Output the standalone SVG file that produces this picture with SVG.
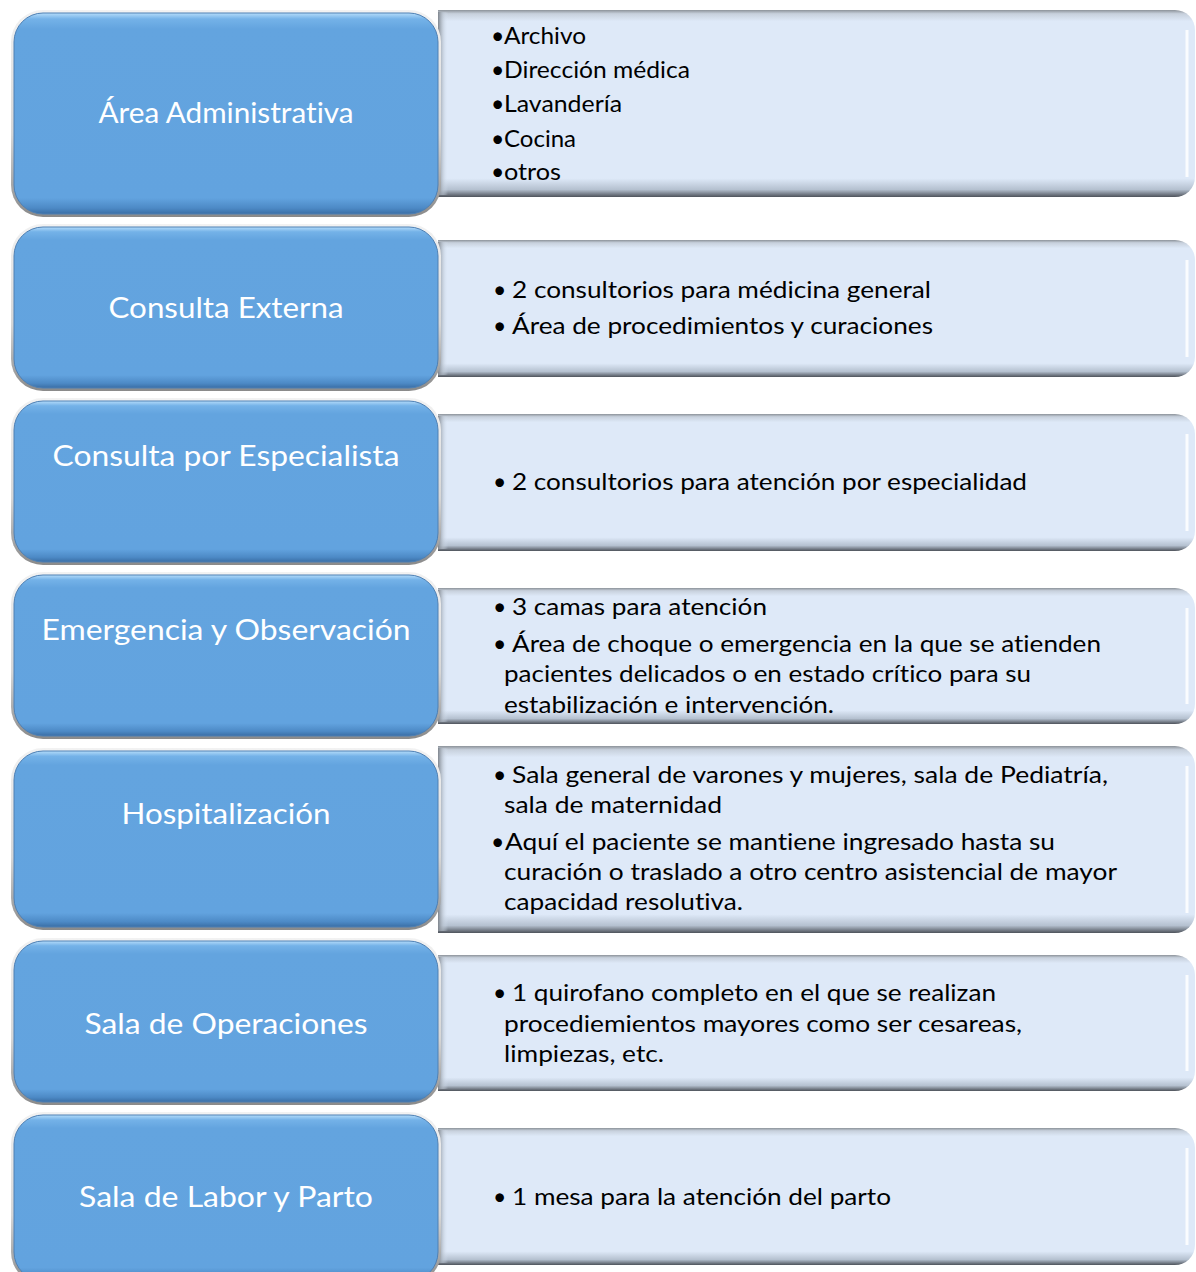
<svg xmlns="http://www.w3.org/2000/svg" width="1196" height="1272" viewBox="0 0 1196 1272">
<defs>
<style>
.ring{fill:url(#ring);}
.blue{fill:url(#blue);stroke:#4E80B4;stroke-width:1;}
.card{fill:url(#card);}
.cardL{fill:url(#cardL);}
.hi{fill:none;stroke:#FFFFFF;stroke-width:3;stroke-opacity:0.85;}
.lbl{font-family:Lato,"Open Sans","Liberation Sans",sans-serif;font-size:29px;fill:#FFFFFF;text-anchor:middle;font-variant-ligatures:none;font-feature-settings:"liga" 0;}
.itm{font-family:Lato,"Open Sans","Liberation Sans",sans-serif;font-size:23px;fill:#000000;font-variant-ligatures:none;font-feature-settings:"liga" 0;}
</style>
<linearGradient id="ring" x1="0" y1="0" x2="0" y2="1">
<stop offset="0" stop-color="#F2F2F2"/><stop offset="0.6" stop-color="#D6D6D6"/><stop offset="1" stop-color="#8A8A8A"/>
</linearGradient>
<linearGradient id="blue" x1="0" y1="0" x2="0" y2="1">
<stop offset="0" stop-color="#B4DCFA"/><stop offset="0.03" stop-color="#74B2E8"/><stop offset="0.08" stop-color="#63A4DF"/><stop offset="0.92" stop-color="#62A3DF"/><stop offset="0.97" stop-color="#4D8AC6"/><stop offset="1" stop-color="#3A6EA5"/>
</linearGradient>
<linearGradient id="card" x1="0" y1="0" x2="0" y2="1">
<stop offset="0" stop-color="#8C9299"/><stop offset="0.02" stop-color="#C7D0DC"/><stop offset="0.06" stop-color="#DEE9F8"/><stop offset="0.9" stop-color="#DEE9F8"/><stop offset="0.96" stop-color="#B5C1D0"/><stop offset="1" stop-color="#4E535B"/>
</linearGradient>
<linearGradient id="cardL" x1="0" y1="0" x2="1" y2="0">
<stop offset="0" stop-color="#7E848C"/><stop offset="0.5" stop-color="#B9C3CF" stop-opacity="0.6"/><stop offset="1" stop-color="#DEE9F8" stop-opacity="0"/>
</linearGradient>
</defs>
<g id="connectors"/>

<g id="row1-detail">
<path class="card" d="M438 10 H1175 A20 20 0 0 1 1195 30 V177 A20 20 0 0 1 1175 197 H438 Z"/>
<rect class="cardL" x="438" y="12" width="10" height="183"/>
<path class="hi" d="M1187 30 V177"/>
<text class="itm" x="491" y="44">•</text><text class="itm" x="504" y="44" textLength="82" lengthAdjust="spacingAndGlyphs">Archivo</text>
<text class="itm" x="491" y="78">•</text><text class="itm" x="504" y="78" textLength="186" lengthAdjust="spacingAndGlyphs">Dirección médica</text>
<text class="itm" x="491" y="112">•</text><text class="itm" x="504" y="112" textLength="118" lengthAdjust="spacingAndGlyphs">Lavandería</text>
<text class="itm" x="491" y="147">•</text><text class="itm" x="504" y="147" textLength="72" lengthAdjust="spacingAndGlyphs">Cocina</text>
<text class="itm" x="491" y="180">•</text><text class="itm" x="504" y="180" textLength="57" lengthAdjust="spacingAndGlyphs">otros</text>
</g>
<g id="row1">
<rect class="ring" x="11" y="10" width="430" height="207" rx="32"/>
<rect class="blue" x="14" y="13" width="424" height="201" rx="29"/>
<text class="lbl" x="226" y="123" textLength="255" lengthAdjust="spacingAndGlyphs">Área Administrativa</text>
</g>

<g id="row2-detail">
<path class="card" d="M438 240 H1175 A20 20 0 0 1 1195 260 V357 A20 20 0 0 1 1175 377 H438 Z"/>
<rect class="cardL" x="438" y="242" width="10" height="133"/>
<path class="hi" d="M1187 260 V357"/>
<text class="itm" x="493" y="298">•</text><text class="itm" x="512" y="298" textLength="419" lengthAdjust="spacingAndGlyphs">2 consultorios para médicina general</text>
<text class="itm" x="493" y="334">•</text><text class="itm" x="512" y="334" textLength="421" lengthAdjust="spacingAndGlyphs">Área de procedimientos y curaciones</text>
</g>
<g id="row2">
<rect class="ring" x="11" y="224" width="430" height="167" rx="32"/>
<rect class="blue" x="14" y="227" width="424" height="161" rx="29"/>
<text class="lbl" x="226" y="318" textLength="235" lengthAdjust="spacingAndGlyphs">Consulta Externa</text>
</g>

<g id="row3-detail">
<path class="card" d="M438 414 H1175 A20 20 0 0 1 1195 434 V531 A20 20 0 0 1 1175 551 H438 Z"/>
<rect class="cardL" x="438" y="416" width="10" height="133"/>
<path class="hi" d="M1187 434 V531"/>
<text class="itm" x="493" y="490">•</text><text class="itm" x="512" y="490" textLength="515" lengthAdjust="spacingAndGlyphs">2 consultorios para atención por especialidad</text>
</g>
<g id="row3">
<rect class="ring" x="11" y="398" width="430" height="167" rx="32"/>
<rect class="blue" x="14" y="401" width="424" height="161" rx="29"/>
<text class="lbl" x="226" y="466" textLength="347" lengthAdjust="spacingAndGlyphs">Consulta por Especialista</text>
</g>

<g id="row4-detail">
<path class="card" d="M438 588 H1175 A20 20 0 0 1 1195 608 V704 A20 20 0 0 1 1175 724 H438 Z"/>
<rect class="cardL" x="438" y="590" width="10" height="132"/>
<path class="hi" d="M1187 608 V704"/>
<text class="itm" x="493" y="615">•</text><text class="itm" x="512" y="615" textLength="255" lengthAdjust="spacingAndGlyphs">3 camas para atención</text>
<text class="itm" x="493" y="652">•</text><text class="itm" x="512" y="652" textLength="589" lengthAdjust="spacingAndGlyphs">Área de choque o emergencia en la que se atienden</text>
<text class="itm" x="504" y="682" textLength="527" lengthAdjust="spacingAndGlyphs">pacientes delicados o en estado crítico para su</text>
<text class="itm" x="504" y="713" textLength="330" lengthAdjust="spacingAndGlyphs">estabilización e intervención.</text>
</g>
<g id="row4">
<rect class="ring" x="11" y="572" width="430" height="167" rx="32"/>
<rect class="blue" x="14" y="575" width="424" height="161" rx="29"/>
<text class="lbl" x="226" y="640" textLength="369" lengthAdjust="spacingAndGlyphs">Emergencia y Observación</text>
</g>

<g id="row5-detail">
<path class="card" d="M438 746 H1175 A20 20 0 0 1 1195 766 V913 A20 20 0 0 1 1175 933 H438 Z"/>
<rect class="cardL" x="438" y="748" width="10" height="183"/>
<path class="hi" d="M1187 766 V913"/>
<text class="itm" x="493" y="783">•</text><text class="itm" x="512" y="783" textLength="596" lengthAdjust="spacingAndGlyphs">Sala general de varones y mujeres, sala de Pediatría,</text>
<text class="itm" x="504" y="813" textLength="218" lengthAdjust="spacingAndGlyphs">sala de maternidad</text>
<text class="itm" x="491" y="850">•</text><text class="itm" x="505" y="850" textLength="550" lengthAdjust="spacingAndGlyphs">Aquí el paciente se mantiene ingresado hasta su</text>
<text class="itm" x="504" y="880" textLength="613" lengthAdjust="spacingAndGlyphs">curación o traslado a otro centro asistencial de mayor</text>
<text class="itm" x="504" y="910" textLength="239" lengthAdjust="spacingAndGlyphs">capacidad resolutiva.</text>
</g>
<g id="row5">
<rect class="ring" x="11" y="748" width="430" height="182" rx="32"/>
<rect class="blue" x="14" y="751" width="424" height="176" rx="29"/>
<text class="lbl" x="226" y="824" textLength="209" lengthAdjust="spacingAndGlyphs">Hospitalización</text>
</g>

<g id="row6-detail">
<path class="card" d="M438 955 H1175 A20 20 0 0 1 1195 975 V1071 A20 20 0 0 1 1175 1091 H438 Z"/>
<rect class="cardL" x="438" y="957" width="10" height="132"/>
<path class="hi" d="M1187 975 V1071"/>
<text class="itm" x="493" y="1001">•</text><text class="itm" x="512" y="1001" textLength="484" lengthAdjust="spacingAndGlyphs">1 quirofano completo en el que se realizan</text>
<text class="itm" x="504" y="1032" textLength="518" lengthAdjust="spacingAndGlyphs">procediemientos mayores como ser cesareas,</text>
<text class="itm" x="504" y="1062" textLength="160" lengthAdjust="spacingAndGlyphs">limpiezas, etc.</text>
</g>
<g id="row6">
<rect class="ring" x="11" y="938" width="430" height="167" rx="32"/>
<rect class="blue" x="14" y="941" width="424" height="161" rx="29"/>
<text class="lbl" x="226" y="1034" textLength="283" lengthAdjust="spacingAndGlyphs">Sala de Operaciones</text>
</g>

<g id="row7-detail">
<path class="card" d="M438 1128 H1175 A20 20 0 0 1 1195 1148 V1245 A20 20 0 0 1 1175 1265 H438 Z"/>
<rect class="cardL" x="438" y="1130" width="10" height="133"/>
<path class="hi" d="M1187 1148 V1245"/>
<text class="itm" x="493" y="1205">•</text><text class="itm" x="512" y="1205" textLength="379" lengthAdjust="spacingAndGlyphs">1 mesa para la atención del parto</text>
</g>
<g id="row7">
<rect class="ring" x="11" y="1112" width="430" height="172" rx="32"/>
<rect class="blue" x="14" y="1115" width="424" height="166" rx="29"/>
<text class="lbl" x="226" y="1207" textLength="294" lengthAdjust="spacingAndGlyphs">Sala de Labor y Parto</text>
</g>
</svg>
